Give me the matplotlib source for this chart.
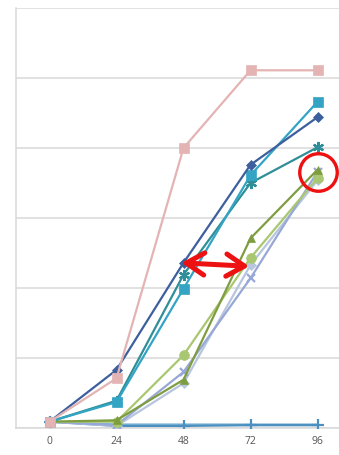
import matplotlib
matplotlib.use("Agg")
import matplotlib.pyplot as plt
from matplotlib.patches import FancyArrowPatch

hours = ["0", "24", "48", "72", "96"]

pink_sq      = [0.9, 7.1, 40.0, 51.1, 51.1]
navy_diamond = [0.9, 8.3, 23.6, 37.6, 44.4]
teal_square  = [0.9, 3.7, 19.9, 36.1, 46.6]
teal_star    = [0.9, 3.9, 21.9, 35.0, 40.1]
olive_tri    = [0.9, 1.1, 6.9, 27.1, 36.9]
lime_circle  = [0.9, 0.9, 10.4, 24.3, 35.7]
lavender_x   = [0.9, 0.4, 8.0, 21.4, 36.6]
mist_diamond = [0.9, 0.3, 6.4, 23.3, 35.4]
flat_plus    = [0.9, 0.3, 0.3, 0.4, 0.4]
flat_line    = [0.9, 0.5, 0.5, 0.5, 0.5]

series = [
    (flat_line,    "#7FB4D6", None, 0),
    (flat_plus,    "#4A8FBF", "+", 8),
    (mist_diamond, "#B7C6DE", "D", 5),
    (lavender_x,   "#98A8D6", "x", 6),
    (lime_circle,  "#A9C770", "o", 7),
    (olive_tri,    "#7E9D40", "^", 6),
    (teal_star,    "#2F8E98", (6, 2, 0), 8),
    (teal_square,  "#34A4C4", "s", 7),
    (navy_diamond, "#3D5F9E", "D", 5),
    (pink_sq,      "#E3B4B3", "s", 7),
]

fig = plt.figure(figsize=(3.39, 4.55), dpi=100)
ax = fig.add_axes([16 / 339, 27 / 455, 335 / 339, 420 / 455])

x = list(range(len(hours)))
for vals, color, marker, ms in series:
    ax.plot(x, vals, color=color, lw=1.6, marker=marker, markersize=ms,
            markeredgewidth=1.6 if marker in ("+", "x") or isinstance(marker, tuple) else 0.5,
            markeredgecolor=color, markerfacecolor=color, zorder=3,
            solid_capstyle="round")

ax.set_xlim(-0.5, 4.5)
ax.set_ylim(0, 60)
ax.set_yticks(range(0, 61, 10))
ax.set_yticklabels([])
ax.tick_params(axis="y", length=0)
ax.set_xticks(x)
ax.set_xticklabels(hours, fontsize=7.5, color="#555555", family="Open Sans")
ax.tick_params(axis="x", length=0, pad=6)
ax.grid(axis="y", color="#D9D9D9", lw=1.1, zorder=0)
for side in ("top", "right"):
    ax.spines[side].set_visible(False)
for side in ("left", "bottom"):
    ax.spines[side].set_color("#D9D9D9")
    ax.spines[side].set_linewidth(1.1)

# highlight: double arrow between the two groups and circle at the end point
arrow = FancyArrowPatch((1.97, 23.6), (2.98, 23.1),
                        arrowstyle="<->,head_length=13,head_width=8",
                        color="#EE1111", lw=3.6, zorder=6,
                        shrinkA=0, shrinkB=0, capstyle="round",
                        joinstyle="round")
ax.add_patch(arrow)
ax.plot([4.01], [36.6], marker="o", markersize=27, markerfacecolor="none",
        markeredgecolor="#EE1111", markeredgewidth=2.4, zorder=6, clip_on=False)

fig.savefig("out.png", dpi=100)
